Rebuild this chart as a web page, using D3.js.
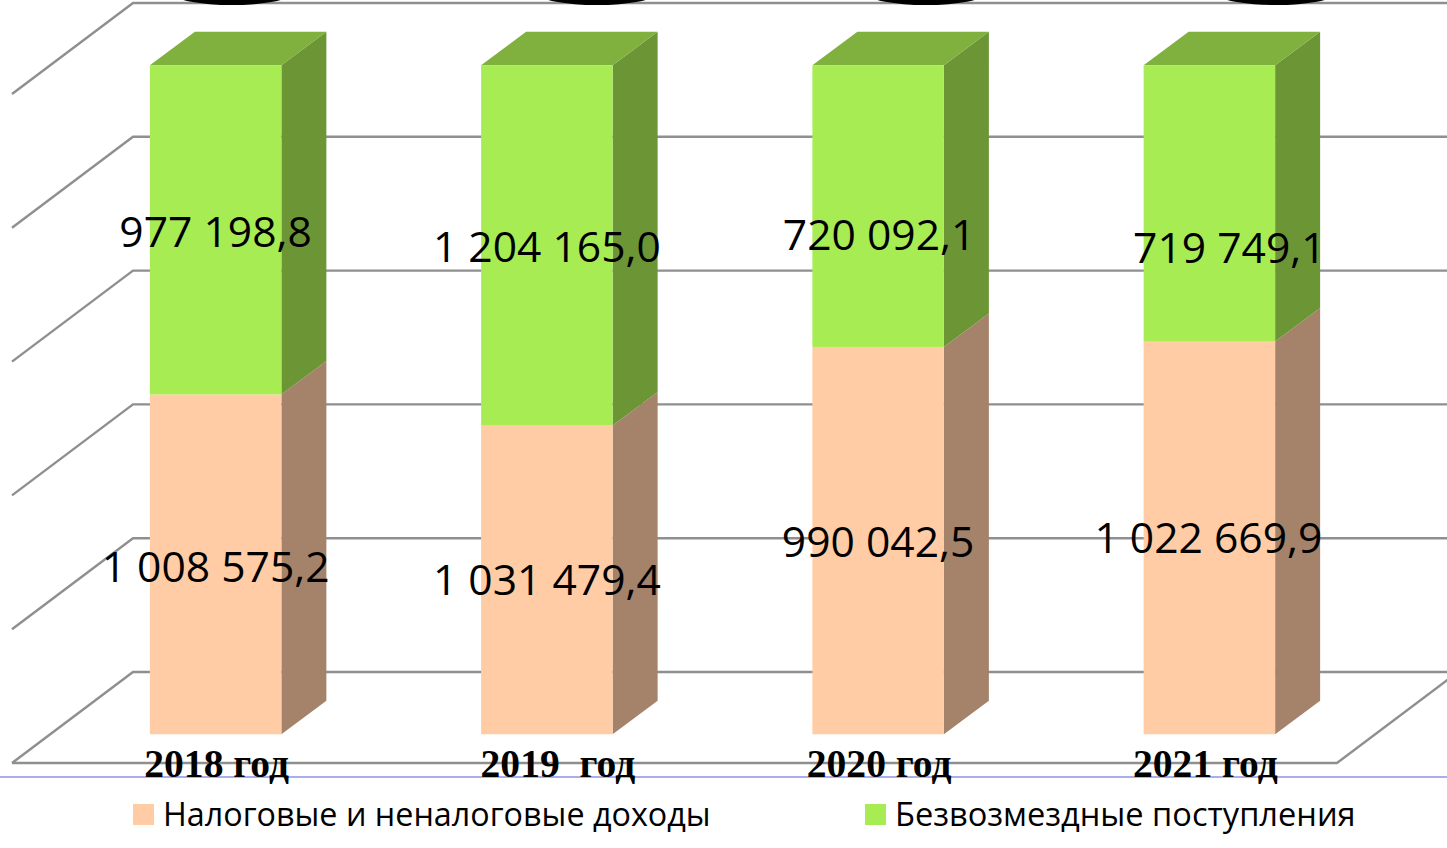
<!DOCTYPE html>
<html>
<head>
<meta charset="utf-8">
<script src="https://cdn.jsdelivr.net/npm/d3@7"></script>
<style>
    html, body {margin: 0; padding: 0; background: #fff; overflow: hidden;}
    text {fill: #000;}
</style>
</head>
<body>
<div id="chart"></div>
<script>
const years = ["2018 год", "2019  год", "2020 год", "2021 год"];
const taxIncome = [1008575.2, 1031479.4, 990042.5, 1022669.9];
const grants = [977198.8, 1204165.0, 720092.1, 719749.1];
const taxLabels = ["1 008 575,2", "1 031 479,4", "990 042,5", "1 022 669,9"];
const grantLabels = ["977 198,8", "1 204 165,0", "720 092,1", "719 749,1"];
const seriesNames = ["Налоговые и неналоговые доходы", "Безвозмездные поступления"];
const gridTicks = [0, 0.2, 0.4, 0.6, 0.8, 1];

const width = 1447, height = 848;

// wall depth of the fake 3d box, and depth of one bar
const wall = {dx: 121, dy: 91}, depth = {dx: 45, dy: 33.5};
const floorY = 763;

const colors = {
    tax: {front: "#ffcca5", side: "#a5826a"},
    grant: {front: "#a8ec54", side: "#6c9636", top: "#80b03e"}
};

let svg = d3.select("#chart").append("svg")
    .attr("width", width).attr("height", height)
    .attr("viewBox", [0, 0, width, height])
    .style("display", "block");

// x is the front edge of the floor, bars sit in the middle of the floor depth
let x = d3.scaleBand()
    .domain(years)
    .range([12, 1337])
    .paddingInner(0.603)
    .paddingOuter(0.3015);

// y is on the back wall
let y = d3.scaleLinear()
    .domain([0, 1])
    .range([floorY - wall.dy, 3]);

const inset = {x: (wall.dx - depth.dx) / 2, y: (wall.dy - depth.dy) / 2};
const barY = v => y(v) + wall.dy - inset.y;
const barX = d => x(d) + inset.x;

/*walls and floor*/
let grid = svg.append("g")
    .attr("fill", "none")
    .attr("stroke", "#8f8f8f")
    .attr("stroke-width", 2.4);

grid.selectAll(".grid")
    .data(gridTicks)
    .join("path")
    .attr("class", "grid")
    .attr("d", d => `M${12},${y(d) + wall.dy}L${12 + wall.dx},${y(d)}L${width},${y(d)}`);

grid.append("path").attr("d", `M12,${floorY}L1337,${floorY}L${1337 + wall.dx},${floorY - wall.dy}`);

// clipped black blobs at the top edge of the source picture
const blobCx = [232, 597, 926, 1276];
svg.append("g").selectAll("ellipse")
    .data(blobCx)
    .join("ellipse")
    .attr("cx", d => d)
    .attr("cy", -6)
    .attr("rx", 58)
    .attr("ry", 11)
    .attr("fill", "#000");

// baseline rule of the source picture
svg.append("line")
    .attr("x1", 0).attr("x2", width)
    .attr("y1", 777).attr("y2", 777)
    .attr("stroke", "#a9aef0")
    .attr("stroke-width", 2);

/*plot bars*/
const rows = years.map((year, i) => {
    const total = taxIncome[i] + grants[i];
    return {year, split: taxIncome[i] / total};
});

let bar = svg.selectAll(".bar")
    .data(rows)
    .join("g")
    .attr("class", "bar");

const side = (d, v0, v1) => {
    const r = barX(d.year) + x.bandwidth();
    return `M${r},${barY(v0)}L${r + depth.dx},${barY(v0) - depth.dy}L${r + depth.dx},${barY(v1) - depth.dy}L${r},${barY(v1)}Z`;
};

bar.append("path")
    .attr("fill", colors.tax.side)
    .attr("d", d => side(d, 0, d.split));

bar.append("path")
    .attr("fill", colors.grant.side)
    .attr("d", d => side(d, d.split, 1));

bar.append("path")
    .attr("fill", colors.grant.top)
    .attr("d", d => {
        const l = barX(d.year), r = l + x.bandwidth(), t = barY(1);
        return `M${l},${t}L${l + depth.dx},${t - depth.dy}L${r + depth.dx},${t - depth.dy}L${r},${t}Z`;
    });

bar.append("rect")
    .attr("fill", colors.tax.front)
    .attr("x", d => barX(d.year))
    .attr("width", x.bandwidth())
    .attr("y", d => barY(d.split))
    .attr("height", d => barY(0) - barY(d.split));

bar.append("rect")
    .attr("fill", colors.grant.front)
    .attr("x", d => barX(d.year))
    .attr("width", x.bandwidth())
    .attr("y", d => barY(1))
    .attr("height", d => barY(d.split) - barY(1));

/*value labels, a few were moved by hand in the source*/
const nudgeTaxX = [0, 0, 0, -1];
const nudgeGrantX = [0, 0, 1, 20];
const nudgeTaxY = [2, 0, 1, 0];
const nudgeGrantY = [2, 1, 29, 44];

const valueLabel = (labels, mid, nudgeX, nudgeY) => svg.append("g")
    .attr("font-family", "'Open Sans'")
    .attr("font-size", 42.6)
    .attr("text-anchor", "middle")
    .selectAll("text")
    .data(rows)
    .join("text")
    .attr("x", (d, i) => barX(d.year) + x.bandwidth() / 2 + nudgeX[i])
    .attr("y", (d, i) => mid(d) + nudgeY[i])
    .attr("dy", "0.36em")
    .text((d, i) => labels[i]);

valueLabel(taxLabels, d => barY(d.split / 2), nudgeTaxX, nudgeTaxY);
valueLabel(grantLabels, d => barY((d.split + 1) / 2), nudgeGrantX, nudgeGrantY);

/*category labels sit on the floor line*/
const nudgeCat = [1, 11, 1, -4];
svg.append("g")
    .attr("font-family", "'Liberation Serif'")
    .attr("font-size", 39.6)
    .attr("font-weight", "bold")
    .attr("text-anchor", "middle")
    .selectAll("text")
    .data(years)
    .join("text")
    .attr("x", (d, i) => barX(d) + x.bandwidth() / 2 + nudgeCat[i])
    .attr("y", 777)
    .style("white-space", "pre")
    .text(d => d);

/*legend*/
let legend = svg.selectAll(".legend")
    .data(seriesNames)
    .join("g")
    .attr("class", "legend")
    .attr("transform", (d, i) => `translate(${[133, 865][i]}, 804)`);

legend.append("rect")
    .attr("width", 21)
    .attr("height", 21)
    .attr("fill", (d, i) => [colors.tax.front, colors.grant.front][i]);

legend.append("text")
    .attr("x", 30)
    .attr("y", 22)
    .attr("font-family", "'Open Sans'")
    .attr("font-size", (d, i) => [32.3, 32.6][i])
    .text(d => d);
</script>
</body>
</html>
